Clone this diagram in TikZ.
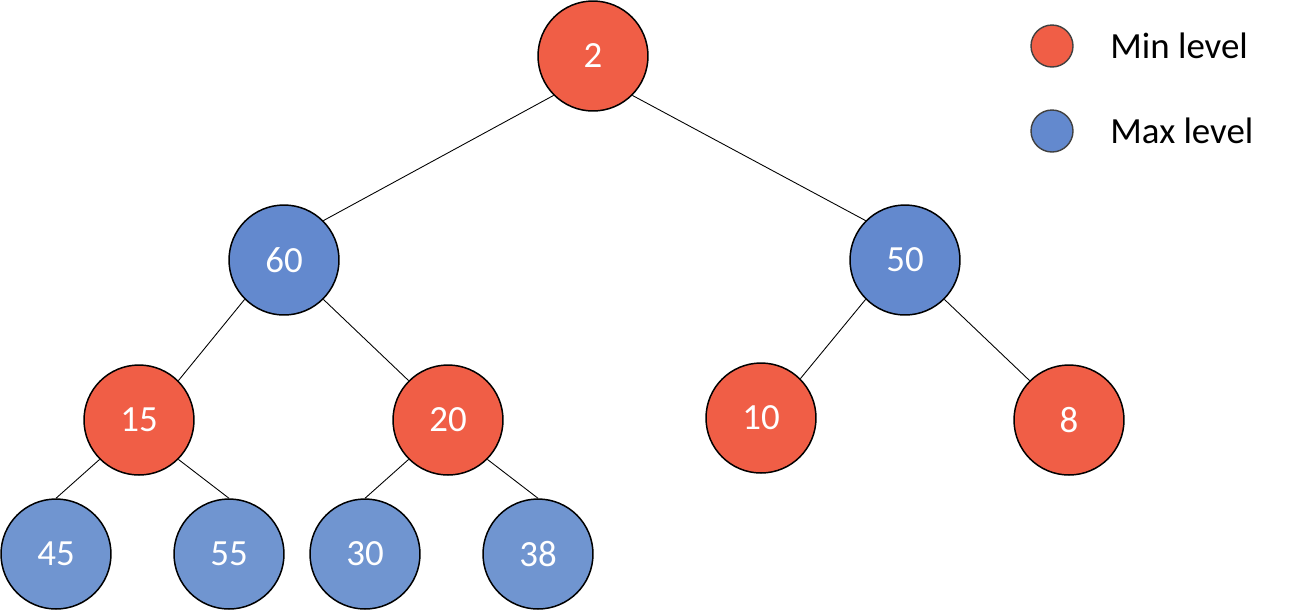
\documentclass[tikz,border=0pt]{standalone}
\usepackage{fontspec}
\setmainfont{Carlito}
\usepackage{tikz}
\usetikzlibrary{positioning}

\definecolor{minred}{RGB}{240,94,70}
\definecolor{maxblue}{RGB}{99,137,206}
\definecolor{leafblue}{RGB}{112,149,208}

\begin{document}
\begin{tikzpicture}[x=0.02cm, y=-0.02cm,
  heapnode/.style = {circle, draw=black, line width=0.85pt,
                     minimum size=2.2cm, inner sep=0pt,
                     text=white, font=\fontsize{21}{25}\selectfont},
  minnode/.style  = {heapnode, fill=minred},
  maxnode/.style  = {heapnode, fill=maxblue},
  leafnode/.style = {heapnode, fill=leafblue},
  keydot/.style   = {circle, draw=black!75, line width=0.8pt,
                     minimum size=0.84cm, inner sep=0pt},
  keytext/.style  = {anchor=west, inner sep=0pt,
                     font=\fontsize{21}{25}\selectfont},
  edge/.style     = {line width=0.5pt, black}
]
\useasboundingbox (0,0) rectangle (1295,610);

% root (min level)
\node[minnode] (n2) at (593,56) {2};

% second level (max)
\node[maxnode] (n60) at (284,260) {60};
\node[maxnode] (n50) at (905,260) {50};

% third level (min)
\node[minnode] (n15) at (139,420) {15};
\node[minnode] (n20) at (448,420) {20};
\node[minnode] (n10) at (761,418) {10};
\node[minnode] (n8)  at (1069,420) {8};

% leaves (max)
\node[leafnode] (n45) at (56,554)  {45};
\node[leafnode] (n55) at (229,554) {55};
\node[leafnode] (n30) at (365,554) {30};
\node[leafnode] (n38) at (538,554) {38};

% edges
\draw[edge] (n2.south west)  -- (n60.north east);
\draw[edge] (n2.south east)  -- (n50.north west);
\draw[edge] (n60.south west) -- (n15.north east);
\draw[edge] (n60.south east) -- (n20.north west);
\draw[edge] (n50.south west) -- (n10.north east);
\draw[edge] (n50.south east) -- (n8.north west);
\draw[edge] (n15.south west) -- (n45.north);
\draw[edge] (n15.south east) -- (n55.north);
\draw[edge] (n20.south west) -- (n30.north);
\draw[edge] (n20.south east) -- (n38.north);

% legend
\node[keydot, fill=minred]  (keymin) at (1052,46)  {};
\node[keydot, fill=maxblue] (keymax) at (1052,131) {};
\node[keytext] (keymintxt) at (1110,46)  {Min level};
\node[keytext] (keymaxtxt) at (1110,131) {Max level};

\end{tikzpicture}
\end{document}
